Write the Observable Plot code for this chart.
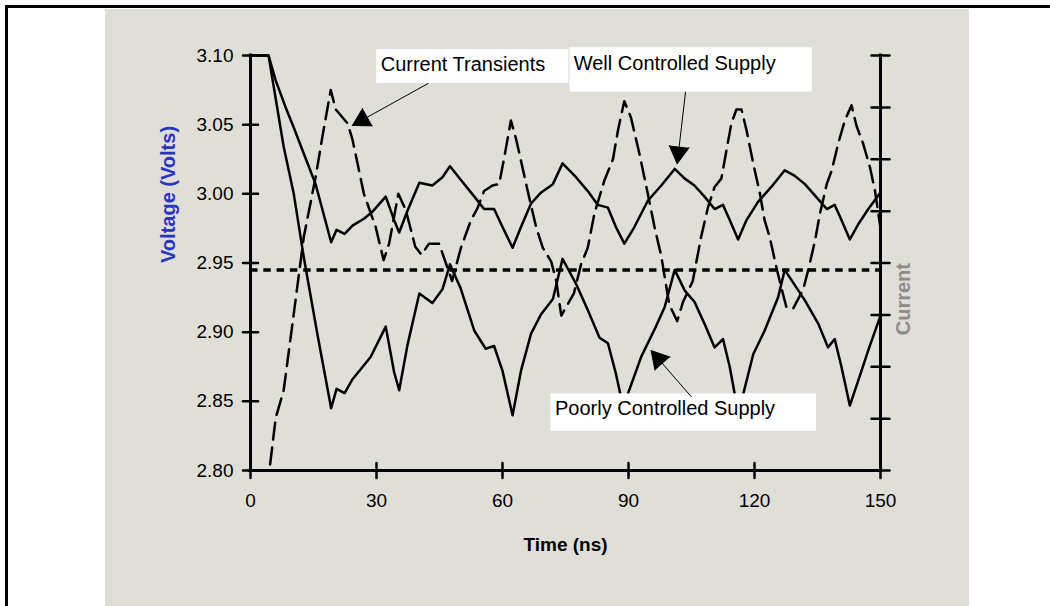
<!DOCTYPE html>
<html><head><meta charset="utf-8">
<script src="https://cdn.jsdelivr.net/npm/d3@7"></script>
<script src="https://cdn.jsdelivr.net/npm/@observablehq/plot@0.6"></script>
<style>
html,body{margin:0;padding:0;background:#fff;}
#page{position:relative;width:1050px;height:606px;overflow:hidden;background:#fff;font-family:"Liberation Sans",Arial,sans-serif;}
#panel{position:absolute;left:105px;top:9px;width:864px;height:597px;background:#dfdfd8;}
#topline{position:absolute;left:5px;top:5px;width:1045px;height:2.5px;background:#000;}
#leftline{position:absolute;left:5px;top:5px;width:2.5px;height:601px;background:#000;}
#chart{position:absolute;left:0;top:0;}
</style></head><body>
<div id="page"><div id="panel"></div><div id="topline"></div><div id="leftline"></div><div id="chart"></div></div>
<script>
// ---- data ----
const wellTime = [0,4.3,6,8.3,10.3,12.7,15.5,19.2,20.5,22.4,24.3,27,29,32.2,34.2,35.4,37.4,40.2,43.3,45.7,47.5,50.1,53.3,55.6,58,60,62.4,64.4,66.8,69.2,72,74.3,77.5,80.3,82.7,85.1,87,89,91.4,94.6,97.8,101,103.4,105.7,108.1,110.5,112.5,114.1,116.1,118.1,120.8,124,127.2,129.6,132,135.2,137.2,139.1,140.7,142.7,144.7,147.1,150];
const wellVolt = [3.10,3.10,3.082,3.063,3.048,3.029,3.007,2.965,2.974,2.971,2.977,2.982,2.987,2.998,2.981,2.972,2.988,3.008,3.006,3.012,3.020,3.010,2.998,2.989,2.989,2.976,2.961,2.976,2.993,3.001,3.007,3.022,3.012,3.002,2.992,2.990,2.976,2.964,2.976,2.995,3.006,3.018,3.011,3.006,2.998,2.989,2.992,2.981,2.967,2.981,2.994,3.005,3.017,3.013,3.007,2.996,2.989,2.992,2.981,2.967,2.978,2.989,3.001];

const poorTime = [0,4.3,7.9,10.3,12.7,15.9,19.2,20.5,22.4,24.3,28.6,32.2,34.2,35.4,37.4,40.2,43.3,45.7,47.5,50,53.3,56,58,60,62.4,64.4,66.8,69.2,72,74.3,77.5,80.3,83.1,85.1,87,88.8,89.8,93,96.2,98.6,101,103.4,105.7,108.1,110.5,112.5,114.1,116.1,117.3,119.7,122.4,125.6,127.2,129.6,132,135.2,137.5,139.1,140.7,142.7,144.7,147.1,150];
const poorVolt = [3.10,3.10,3.034,3.000,2.954,2.899,2.845,2.859,2.856,2.866,2.882,2.904,2.871,2.858,2.891,2.928,2.921,2.931,2.949,2.932,2.901,2.888,2.890,2.872,2.840,2.872,2.899,2.913,2.924,2.953,2.935,2.916,2.896,2.892,2.870,2.845,2.855,2.882,2.902,2.918,2.945,2.930,2.922,2.906,2.889,2.895,2.875,2.842,2.855,2.884,2.901,2.925,2.945,2.934,2.923,2.906,2.889,2.895,2.875,2.847,2.865,2.887,2.912];

const currTime = [0,4.5,6,7.9,9.9,12.7,15.5,17.1,19.1,20.3,23.1,24.3,27,29.8,31.7,33,35.2,37,39.2,40.7,42.5,44.9,48,50.1,52.5,54.1,55.6,57.6,59.2,60.4,62,63.2,64.4,66,68,69.6,71.6,72.8,74,77,78.7,80.3,81.9,84.3,86.3,87.5,89,90.6,92.6,94.6,96.2,97.8,99.7,101.6,103,105.3,107.3,108.9,110.5,112.1,113.3,114.5,115.7,116.9,118.1,119.7,121.3,122.4,123.6,125.2,126.4,127.6,129.2,131.6,132.8,134.4,135.6,137.2,138.4,139.9,141.5,143.1,144.3,145.9,147.5,148.7,150];
const currVolt = [2.80,2.80,2.838,2.858,2.904,2.969,3.012,3.041,3.075,3.061,3.051,3.039,3.000,2.976,2.952,2.964,3.000,2.988,2.962,2.956,2.964,2.964,2.937,2.961,2.981,2.990,3.002,3.006,3.007,3.026,3.053,3.040,3.024,3.002,2.976,2.961,2.951,2.937,2.912,2.928,2.949,2.961,2.986,3.010,3.025,3.046,3.067,3.055,3.029,3.000,2.976,2.955,2.920,2.908,2.922,2.937,2.969,2.990,3.005,3.011,3.031,3.051,3.061,3.061,3.046,3.022,3.000,2.981,2.969,2.947,2.932,2.918,2.917,2.931,2.945,2.966,2.986,3.007,3.017,3.036,3.053,3.064,3.049,3.036,3.019,3.002,2.975];

const thresholdVolt = [2.945];
const xTicks = [0, 30, 60, 90, 120, 150];
const yTicks = [2.80, 2.85, 2.90, 2.95, 3.00, 3.05, 3.10];
const currentTicks = [0, 1, 2, 3, 4, 5, 6, 7, 8];

const labelTexts = ["Current Transients", "Well Controlled Supply", "Poorly Controlled Supply"];
// annotation placement (data units): box, text anchor, arrow
const boxT1 = [30.05, 76.07, 71.54], boxT2 = [75.8, 133.8, 134.74];
const boxV1 = [3.0798, 3.0735, 2.8284], boxV2 = [3.1043, 3.1056, 2.8554];
const textT = [31.0, 76.96, 72.5], textV = [3.0933, 3.0943, 2.8444];
const arrowT1 = [42.3, 103.57, 104.93], arrowV1 = [3.0798, 3.0735, 2.8534];
const arrowT2 = [24.25, 101.59, 95.39], arrowV2 = [3.0494, 3.0217, 2.8867];

// ---- tables ----
const toRows = (T, V) => T.map((t, i) => ({t, v: V[i]}));
const well = toRows(wellTime, wellVolt);
const poor = toRows(poorTime, poorVolt);
const curr = toRows(currTime, currVolt);
const notes = labelTexts.map((label, i) => ({
  label, bx1: boxT1[i], bx2: boxT2[i], by1: boxV1[i], by2: boxV2[i],
  tx: textT[i], ty: textV[i], ax1: arrowT1[i], ay1: arrowV1[i], ax2: arrowT2[i], ay2: arrowV2[i]
}));

const yMin = yTicks[0], yMax = yTicks[yTicks.length - 1];
const tickShape = {draw(ctx, l) { ctx.moveTo(0, 0); ctx.lineTo(0, -l); }};

const chart = Plot.plot({
  width: 1050, height: 606,
  marginLeft: 250, marginRight: 170, marginTop: 55, marginBottom: 136,
  style: {background: "transparent", fontFamily: "'Liberation Sans', Arial, sans-serif", color: "black", overflow: "visible"},
  x: {domain: [0, 150]},
  y: {domain: [yMin, yMax]},
  marks: [
    Plot.line(poor, {x: "t", y: "v", stroke: "black", strokeWidth: 2.5}),
    Plot.line(well, {x: "t", y: "v", stroke: "black", strokeWidth: 2.5}),
    Plot.line(curr, {x: "t", y: "v", stroke: "black", strokeWidth: 2.5, strokeDasharray: "17,8"}),
    Plot.ruleY(thresholdVolt, {stroke: "black", strokeWidth: 3.5, strokeDasharray: "7.5,5.8"}),
    Plot.rect(notes, {x1: "bx1", x2: "bx2", y1: "by1", y2: "by2", fill: "white"}),
    Plot.text(notes, {x: "tx", y: "ty", text: "label", textAnchor: "start", fontSize: 20, fill: "black"}),
    Plot.arrow(notes, {x1: "ax1", y1: "ay1", x2: "ax2", y2: "ay2", stroke: "black", fill: "black", strokeWidth: 1, headLength: 30, headAngle: 60}),
    // axes lines
    Plot.ruleX([0, 150], {stroke: "black", strokeWidth: 3, strokeLinecap: "square"}),
    Plot.ruleY([yMin], {stroke: "black", strokeWidth: 3, strokeLinecap: "square"}),
    // cross ticks
    Plot.vector(xTicks, {x: d => d, frameAnchor: "bottom", length: 15, anchor: "middle", shape: tickShape, stroke: "black", strokeWidth: 2.5}),
    Plot.vector(yTicks, {y: d => d, frameAnchor: "left", rotate: 90, length: 15, anchor: "middle", shape: tickShape, stroke: "black", strokeWidth: 2.5}),
    Plot.vector(currentTicks, {y: d => yMin + d * (yMax - yMin) / (currentTicks.length - 1), frameAnchor: "right", rotate: 90, length: 18, anchor: "middle", shape: tickShape, stroke: "black", strokeWidth: 2.5}),
    // tick labels
    Plot.axisX(xTicks, {tickSize: 0, tickPadding: 23, fontSize: 19, label: null, tickFormat: d => String(d)}),
    Plot.axisY(yTicks, {tickSize: 0, tickPadding: 17, fontSize: 19, label: null, tickFormat: d3.format(".2f")}),
    // axis titles
    Plot.text(["Time (ns)"], {text: d => d, frameAnchor: "bottom", dy: 80, fontWeight: "bold", fontSize: 19, fill: "black"}),
    Plot.text(["Voltage (Volts)"], {text: d => d, frameAnchor: "left", rotate: -90, dx: -82, fontWeight: "bold", fontSize: 20, fill: "#2a35c0"}),
    Plot.text(["Current"], {text: d => d, frameAnchor: "right", rotate: -90, dx: 23, fontWeight: "bold", fontSize: 20, fill: "#8c8c8c"})
  ]
});
document.getElementById("chart").appendChild(chart);
</script>
</body></html>
